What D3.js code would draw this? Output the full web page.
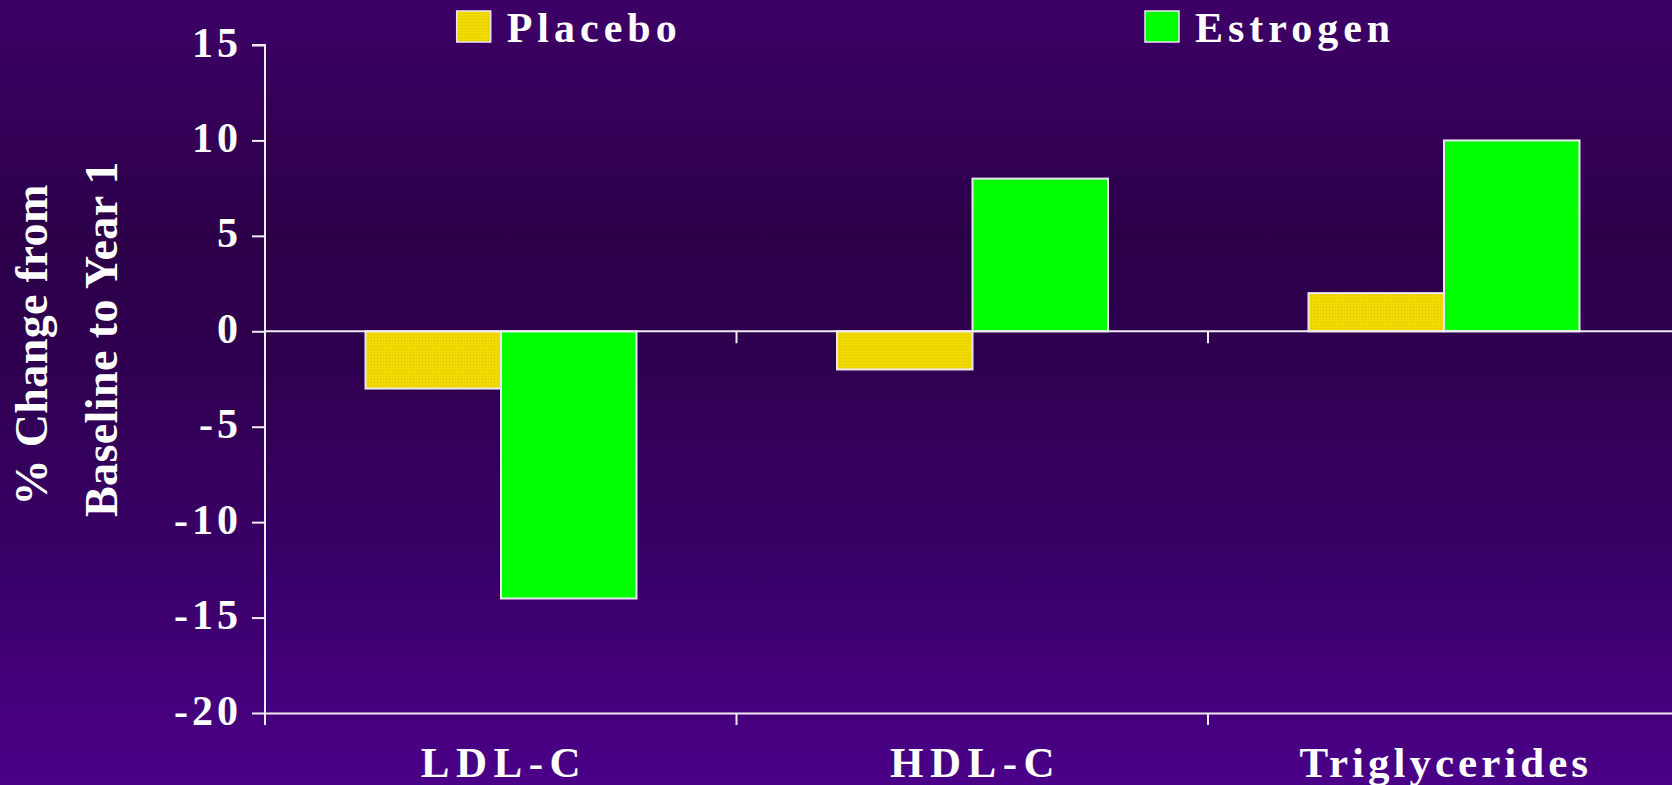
<!DOCTYPE html>
<html>
<head>
<meta charset="utf-8">
<script src="https://cdn.jsdelivr.net/npm/d3@7"></script>
<style>
  html, body { margin: 0; padding: 0; overflow: hidden; background: #2e004e; }
  svg { display: block; }
  text { font-family: "Liberation Serif", "Times New Roman", serif; font-weight: bold; fill: #ffffff; }
</style>
</head>
<body>
<svg id="chart" width="1672" height="785"></svg>
<script>
// Lipid changes after one year, by treatment arm
const categories = ["LDL-C", "HDL-C", "Triglycerides"];
const seriesNames = ["Placebo", "Estrogen"];
const placeboValues = [-3, -2, 2];
const estrogenValues = [-14, 8, 10];
const yTickValues = [-20, -15, -10, -5, 0, 5, 10, 15];
const yTitleLines = ["% Change from", "Baseline to Year 1"];

const rows = categories.map((c, i) => ({
  category: c,
  values: [
    { series: "Placebo", value: placeboValues[i] },
    { series: "Estrogen", value: estrogenValues[i] }
  ]
}));

const W = 1672, H = 785;
const svg = d3.select("#chart");
const defs = svg.append("defs");

// background gradient
const grad = defs.append("linearGradient").attr("id", "bg")
  .attr("x1", 0).attr("y1", 0).attr("x2", 0).attr("y2", 1);
[[0, "#3d0067"], [0.3, "#2c0049"], [0.45, "#2e004f"], [0.75, "#3b006b"], [1, "#4b0088"]]
  .forEach(([o, c]) => grad.append("stop").attr("offset", o).attr("stop-color", c));
svg.append("rect").attr("width", W).attr("height", H).attr("fill", "url(#bg)");

// dotted yellow fill for the placebo series
const pat = defs.append("pattern").attr("id", "dots")
  .attr("patternUnits", "userSpaceOnUse").attr("width", 3).attr("height", 3);
pat.append("rect").attr("width", 3).attr("height", 3).attr("fill", "#f0da00");
pat.append("rect").attr("x", 1).attr("y", 1).attr("width", 1).attr("height", 1).attr("fill", "#d8c000");

const fills = { Placebo: "url(#dots)", Estrogen: "#00ff00" };
const lineColor = "#f2ecf5";

const plotLeft = 265, bandW = 471.5;
const x = d3.scaleBand().domain(categories)
  .range([plotLeft, plotLeft + bandW * categories.length]).padding(0);
const xs = d3.scaleBand().domain(seriesNames).range([100.5, 371.5]).padding(0);
const y = d3.scaleLinear().domain([-20, 15]).range([713, 45]);

// bars
const groups = svg.append("g").selectAll("g").data(rows).join("g")
  .attr("transform", d => `translate(${x(d.category)},0)`);
groups.selectAll("rect").data(d => d.values).join("rect")
  .attr("x", d => xs(d.series))
  .attr("y", d => y(Math.max(0, d.value)))
  .attr("width", xs.bandwidth())
  .attr("height", d => Math.abs(y(d.value) - y(0)))
  .attr("fill", d => fills[d.series])
  .attr("stroke", "#ece6f2").attr("stroke-width", 2);

// zero line with category boundary ticks
const zero = svg.append("g").attr("transform", `translate(0,${y(0)})`);
zero.append("line").attr("x1", plotLeft).attr("x2", W).attr("stroke", lineColor).attr("stroke-width", 2);
zero.selectAll("line.t").data(categories.slice(1)).join("line").attr("class", "t")
  .attr("x1", d => x(d)).attr("x2", d => x(d)).attr("y1", 0).attr("y2", 12)
  .attr("stroke", lineColor).attr("stroke-width", 2);

// bottom axis: category labels centred in each band, ticks at band edges
const labelSpacing = d => (d.length > 6 ? 4 : 6.5);
const xAxis = svg.append("g").attr("transform", `translate(0,${y(-20)})`)
  .call(d3.axisBottom(x).tickSize(0).tickPadding(0));
xAxis.select(".domain").attr("stroke", lineColor).attr("stroke-width", 2);
xAxis.selectAll(".tick text")
  .attr("y", 64).attr("dy", 0)
  .attr("dx", d => labelSpacing(d) / 2)
  .style("font-size", "43px").style("letter-spacing", d => labelSpacing(d) + "px")
  .attr("fill", "#ffffff");
xAxis.selectAll("line.edge").data(categories).join("line").attr("class", "edge")
  .attr("x1", d => x(d)).attr("x2", d => x(d)).attr("y1", 0).attr("y2", 12)
  .attr("stroke", lineColor).attr("stroke-width", 2);

// left axis
const yAxis = svg.append("g").attr("transform", `translate(${plotLeft},0)`)
  .call(d3.axisLeft(y).tickValues(yTickValues).tickSize(13).tickPadding(0)
    .tickFormat(d => String(d)));
yAxis.select(".domain").attr("stroke", lineColor).attr("stroke-width", 2)
  .attr("d", `M-13,${y(15)}H0V${y(-20) + 12}`);
yAxis.selectAll(".tick line").attr("stroke", lineColor).attr("stroke-width", 2);
yAxis.selectAll(".tick text")
  .attr("x", -23).attr("dy", 11)
  .style("font-size", "42px").style("letter-spacing", "4px")
  .attr("fill", "#ffffff");

// y-axis title, two rotated lines
const titleBase = [[46.7, 345], [116.7, 339]];
svg.append("g").selectAll("text").data(yTitleLines).join("text")
  .attr("transform", (d, i) => `translate(${titleBase[i][0]},${titleBase[i][1]}) rotate(-90)`)
  .attr("text-anchor", "middle")
  .style("font-size", "46px").style("letter-spacing", "0.4px")
  .text(d => d);

// legend
const legendPos = { Placebo: 456.7, Estrogen: 1145 };
const legend = svg.append("g").selectAll("g").data(seriesNames).join("g")
  .attr("transform", d => `translate(${legendPos[d]},0)`);
legend.append("rect")
  .attr("x", 0).attr("y", 11).attr("width", 34).attr("height", 31)
  .attr("fill", d => fills[d]).attr("stroke", "#ece6f2").attr("stroke-width", 1.5);
legend.append("text")
  .attr("x", 50).attr("y", 41.5)
  .style("font-size", "42px").style("letter-spacing", "5px")
  .text(d => d);
</script>
</body>
</html>
